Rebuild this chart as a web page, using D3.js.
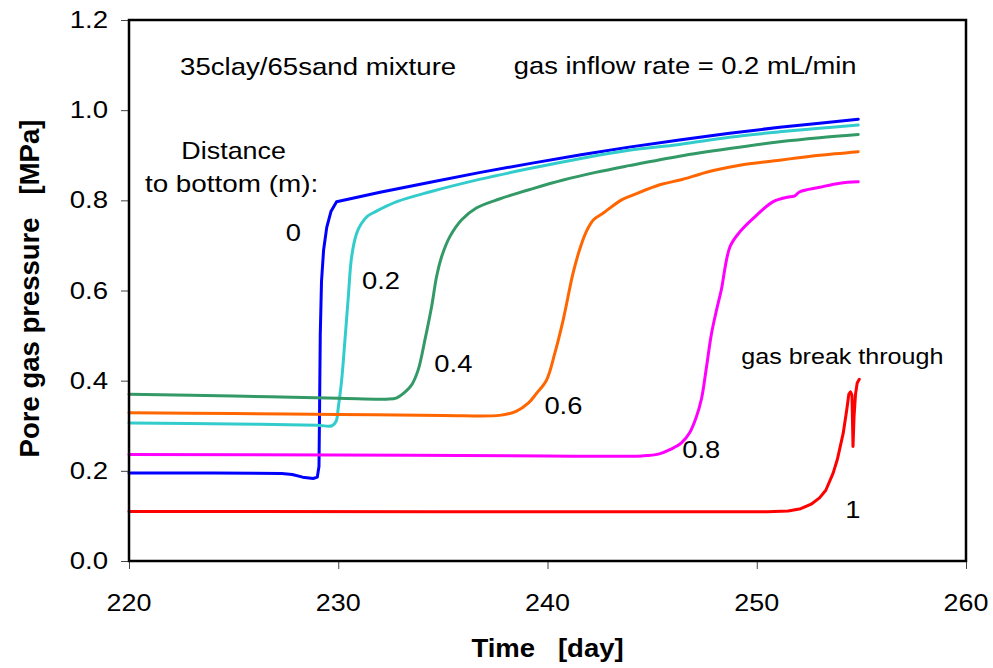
<!DOCTYPE html>
<html>
<head>
<meta charset="utf-8">
<script src="https://cdn.jsdelivr.net/npm/d3@7"></script>
<style>
  body { margin: 0; background: #fff; }
  text { font-family: Arial, "Liberation Sans", sans-serif; fill: #000; white-space: pre; }
</style>
</head>
<body>
<svg id="chart" width="993" height="668"></svg>
<script>
// Axis ticks
const xTicks = [220, 230, 240, 250, 260];
const yTicks = [0, 0.2, 0.4, 0.6, 0.8, 1.0, 1.2];

// Pore gas pressure [MPa] vs time [day], one series per distance to bottom
const dist0 = [[220,0.195],[224,0.195],[227.3,0.194],[227.8,0.192],[228.3,0.186],[228.8,0.183],[229.0,0.186],
  [229.08,0.21],[229.11,0.35],[229.14,0.50],[229.2,0.62],[229.3,0.69],[229.45,0.74],[229.65,0.775],[229.92,0.797],
  [232,0.818],[234.4,0.840],[236.8,0.862],[239.2,0.882],[241.6,0.901],[243.9,0.918],[246.3,0.934],[248.7,0.949],
  [251.1,0.962],[253,0.971],[254.85,0.980]];
const dist02 = [[220,0.306],[225,0.304],[229,0.301],[229.7,0.300],[229.9,0.310],[230.0,0.34],[230.16,0.40],
  [230.32,0.49],[230.48,0.586],[230.64,0.675],[230.88,0.727],[231.1,0.748],[231.4,0.765],[231.7,0.773],
  [232.8,0.797],[234.4,0.819],[236.8,0.847],[239.2,0.871],[241.6,0.893],[243.9,0.911],[246.3,0.924],
  [248.7,0.940],[251.1,0.952],[253,0.960],[254.85,0.967]];
const dist04 = [[220,0.370],[225,0.366],[230,0.361],[232.3,0.359],[232.8,0.362],[233.2,0.375],[233.5,0.39],
  [233.82,0.424],[234.14,0.49],[234.46,0.564],[234.7,0.631],[234.94,0.675],[235.34,0.720],[235.9,0.757],
  [236.6,0.783],[237.7,0.803],[239.3,0.826],[240.75,0.845],[242.3,0.862],[243.9,0.877],[246.3,0.898],
  [248.7,0.915],[251.1,0.930],[253,0.939],[254.85,0.946]];
const dist06 = [[220,0.329],[225,0.327],[230,0.325],[235,0.323],[237.7,0.323],[238.5,0.332],[239.08,0.350],
  [239.48,0.372],[239.95,0.401],[240.35,0.461],[240.75,0.535],[241.23,0.64],[241.6,0.70],[241.9,0.735],
  [242.2,0.757],[242.7,0.773],[243.5,0.800],[244.1,0.812],[245.4,0.835],[246.33,0.845],[247.28,0.858],
  [247.92,0.866],[249.19,0.878],[251.1,0.889],[251.9,0.894],[253,0.900],[254.85,0.908]];
const dist08 = [[220,0.236],[230,0.235],[240,0.233],[244.5,0.233],[245.3,0.237],[245.9,0.248],[246.4,0.262],
  [246.8,0.285],[247.1,0.318],[247.36,0.360],[247.6,0.431],[247.84,0.505],[248.08,0.557],[248.3,0.60],[248.72,0.697],
  [249.19,0.730],[249.83,0.760],[250.79,0.797],[251.58,0.808],[251.82,0.810],[252.06,0.819],[253.01,0.829],
  [253.97,0.838],[254.85,0.841]];
const dist1 = [[220,0.110],[235,0.109],[250.5,0.109],[251.5,0.111],[252.1,0.116],[252.6,0.126],[253.0,0.140],[253.3,0.157],
  [253.65,0.195],[253.85,0.225],[254.13,0.283],[254.3,0.335],[254.4,0.370],[254.48,0.375],[254.55,0.368],
  [254.6,0.254],[254.65,0.32],[254.72,0.37],[254.8,0.395],[254.9,0.403]];

const seriesData = [dist0, dist02, dist04, dist06, dist08, dist1];
const seriesNames = ["0", "0.2", "0.4", "0.6", "0.8", "1"];
const seriesColors = ["#0000ff", "#33cccc", "#339966", "#ff6600", "#ff00ff", "#ff0000"];

const svg = d3.select("#chart");
const x = d3.scaleLinear().domain([220, 260]).range([129, 966]);
const y = d3.scaleLinear().domain([0, 1.2]).range([561, 20]);

// text helper with a slight horizontal stretch
function label(g, str, px, py, opts = {}) {
  const sx = opts.sx || 1.14;
  return g.append("text")
    .attr("transform", `translate(${px},${py}) scale(${sx},1)`)
    .attr("text-anchor", opts.anchor || "start")
    .style("font-size", (opts.size || 24) + "px")
    .style("font-weight", opts.bold ? "bold" : "normal")
    .text(str);
}

// axes ticks
const gx = svg.append("g").attr("transform", `translate(0,${y(0)})`)
  .call(d3.axisBottom(x).tickValues(xTicks).tickSize(8).tickFormat(""));
const gy = svg.append("g").attr("transform", `translate(${x(220)},0)`)
  .call(d3.axisLeft(y).tickValues(yTicks).tickSize(8).tickFormat(""));
[gx, gy].forEach(g => {
  g.select(".domain").remove();
  g.selectAll(".tick line").attr("stroke", "#444").attr("stroke-width", 1);
});

const tl = svg.append("g");
xTicks.forEach(v => label(tl, String(v), x(v), 611, { anchor: "middle", size: 24, sx: 1.12 }));
yTicks.forEach(v => label(tl, d3.format(".1f")(v), 108, y(v) + 8, { anchor: "end", size: 23, sx: 1.2 }));

// series lines: smooth for the gradual curves, straight segments for the sharp ones
const lineSmooth = d3.line().x(d => x(d[0])).y(d => y(d[1])).curve(d3.curveCatmullRom.alpha(0.5));
const lineSharp = d3.line().x(d => x(d[0])).y(d => y(d[1]));
svg.append("g").selectAll("path").data(seriesData).join("path")
  .attr("d", (d, i) => (i === 0 || i === 5 ? lineSharp : lineSmooth)(d))
  .attr("fill", "none")
  .attr("stroke", (d, i) => seriesColors[i])
  .attr("stroke-width", 3)
  .attr("stroke-linejoin", "round")
  .attr("stroke-linecap", "round");

// plot frame
svg.append("rect")
  .attr("x", x(220)).attr("y", y(1.2))
  .attr("width", x(260) - x(220)).attr("height", y(0) - y(1.2))
  .attr("fill", "none").attr("stroke", "#000").attr("stroke-width", 2.5);

// annotations
const ann = svg.append("g");
label(ann, "35clay/65sand mixture", x(222.44), y(1.078), { size: 24, sx: 1.15 });
label(ann, "gas inflow rate = 0.2 mL/min", x(238.39), y(1.080), { size: 24, sx: 1.14 });
label(ann, "Distance", x(225.0), y(0.892), { anchor: "middle", size: 24, sx: 1.12 });
label(ann, "to bottom (m):", x(224.9), y(0.818), { anchor: "middle", size: 24, sx: 1.16 });
const seriesLabelPos = [[227.86, 0.710], [232.04, 0.603], [235.5, 0.420], [240.76, 0.325], [247.35, 0.228], [254.59, 0.096]];
seriesNames.forEach((n, i) => label(ann, n, x(seriesLabelPos[i][0]), y(seriesLabelPos[i][1]), { anchor: "middle", size: 24 }));
label(ann, "gas break through", x(254.09), y(0.437), { anchor: "middle", size: 22 });

// axis titles
label(svg, "Time   [day]", x(240), 657, { anchor: "middle", size: 25, bold: true, sx: 1.1 });
svg.append("text")
  .attr("transform", `translate(39,${y(0.6) - 2}) rotate(-90)`)
  .attr("text-anchor", "middle")
  .style("font-size", "27.5px").style("font-weight", "bold")
  .text("Pore gas pressure   [MPa]");
</script>
</body>
</html>
